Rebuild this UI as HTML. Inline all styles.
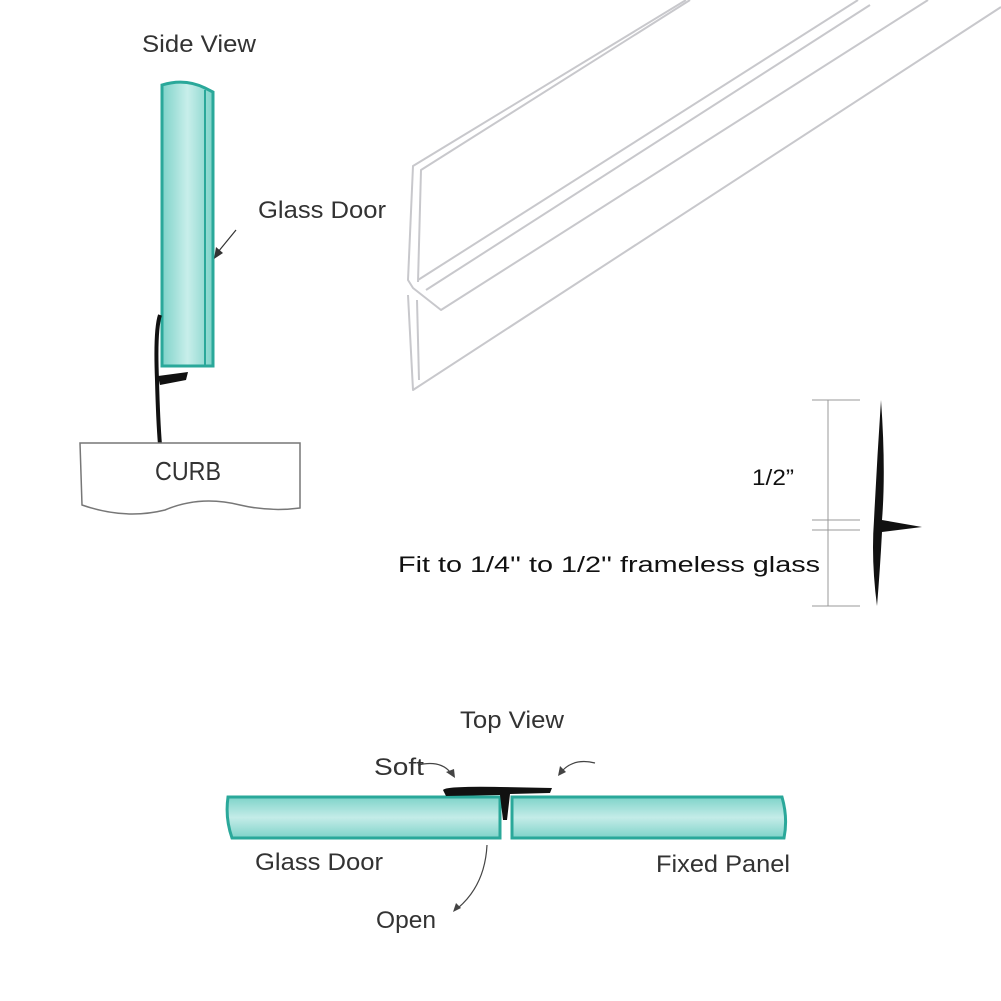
<!DOCTYPE html>
<html><head><style>body{margin:0;background:#fff}svg{display:block}</style></head><body>
<svg width="1001" height="1001" viewBox="0 0 1001 1001" xmlns="http://www.w3.org/2000/svg">
<defs>
<linearGradient id="gv" x1="0" x2="1" y1="0" y2="0"><stop offset="0" stop-color="#7ed3c9"/><stop offset="0.5" stop-color="#c8eeea"/><stop offset="1" stop-color="#7ed3c9"/></linearGradient>
<linearGradient id="gh" x1="0" x2="0" y1="0" y2="1"><stop offset="0" stop-color="#7ed3c9"/><stop offset="0.5" stop-color="#c4ece8"/><stop offset="1" stop-color="#7ed3c9"/></linearGradient>
</defs>
<!-- side view glass -->
<path d="M162,85 Q185,78 205,88 L213,92 L213,366 L162,366 Z" fill="url(#gv)" stroke="#2aa89a" stroke-width="3"/>
<line x1="205" y1="90" x2="205" y2="366" stroke="#2aa89a" stroke-width="2"/>
<!-- seal side -->
<path d="M160,315 Q155,330 157,380 Q158,420 160,445" fill="none" stroke="#111" stroke-width="4"/>
<path d="M158,376 L188,372 L186,380 L160,385 Z" fill="#111"/>
<!-- arrow -->
<line x1="236" y1="230" x2="218" y2="252" stroke="#333" stroke-width="1.2"/>
<path d="M214,259 L216,247 L223,253 Z" fill="#333"/>
<!-- curb -->
<path d="M80,443 L300,443 L300,508 Q270,512 240,505 Q200,495 165,510 Q125,520 82,505 Z" fill="#fff" stroke="#777" stroke-width="1.5"/>
<!-- clear seal -->
<g fill="none" stroke="#c8c8cc" stroke-width="2" stroke-linejoin="round">
<path d="M686,0 L413,166 L408,280 L413,288 L441,310 L928,0"/>
<path d="M690,0 L421,170 L418,282"/>
<path d="M418,280 L858,0"/>
<path d="M426,290 L870,5"/>
<path d="M408,295 L413,390 L1001,7"/>
<path d="M417,300 L419,380"/>
</g>
<!-- right T profile -->
<g stroke="#999" stroke-width="1">
<line x1="812" y1="400" x2="860" y2="400"/><line x1="812" y1="520" x2="860" y2="520"/>
<line x1="812" y1="530" x2="860" y2="530"/><line x1="812" y1="606" x2="860" y2="606"/>
<line x1="828" y1="400" x2="828" y2="606"/>
</g>
<path d="M881,400 Q886,470 882,520 L922,527 L882,532 Q880,570 877,606 Q871,560 874,520 Q877,460 881,400 Z" fill="#111"/>
<!-- top view glass -->
<path d="M228,797 L500,797 L500,838 L232,838 Q225,818 228,797 Z" fill="url(#gh)" stroke="#2aa89a" stroke-width="3"/>
<path d="M512,797 L782,797 Q788,818 784,838 L512,838 Z" fill="url(#gh)" stroke="#2aa89a" stroke-width="3"/>
<path d="M443,790 Q446,786 500,787 L552,788 L550,793 L510,794 L507,820 L503,820 L500,795 L446,796 Z" fill="#111"/>
<!-- top view arrows -->
<g fill="none" stroke="#444" stroke-width="1.2">
<path d="M418,765 Q440,760 450,772"/>
<path d="M595,763 Q575,758 563,770"/>
<path d="M487,845 Q485,885 458,908"/>
</g>
<g fill="#444"><path d="M455,778 L446,772 L454,769 Z"/><path d="M558,776 L560,766 L566,772 Z"/><path d="M453,912 L456,903 L461,908 Z"/></g>
<g font-family="Liberation Sans, sans-serif" fill="#333">
<text x="142" y="52" font-size="24" textLength="114" lengthAdjust="spacingAndGlyphs">Side View</text>
<text x="258" y="218" font-size="24" textLength="128" lengthAdjust="spacingAndGlyphs">Glass Door</text>
<text x="155" y="480" font-size="26" textLength="66" lengthAdjust="spacingAndGlyphs">CURB</text>
<text x="460" y="728" font-size="24" textLength="104" lengthAdjust="spacingAndGlyphs">Top View</text>
<text x="374" y="775" font-size="24" textLength="50" lengthAdjust="spacingAndGlyphs">Soft</text>
<text x="255" y="870" font-size="24" textLength="128" lengthAdjust="spacingAndGlyphs">Glass Door</text>
<text x="656" y="872" font-size="24" textLength="134" lengthAdjust="spacingAndGlyphs">Fixed Panel</text>
<text x="376" y="928" font-size="24" textLength="60" lengthAdjust="spacingAndGlyphs">Open</text>
</g>
<g font-family="Liberation Sans, sans-serif" fill="#111" font-size="22">
<text x="752" y="485" textLength="42" lengthAdjust="spacingAndGlyphs">1/2”</text>
<text x="398" y="572" textLength="422" lengthAdjust="spacingAndGlyphs">Fit to 1/4'' to 1/2'' frameless glass</text>
</g>
</svg>
</body></html>
